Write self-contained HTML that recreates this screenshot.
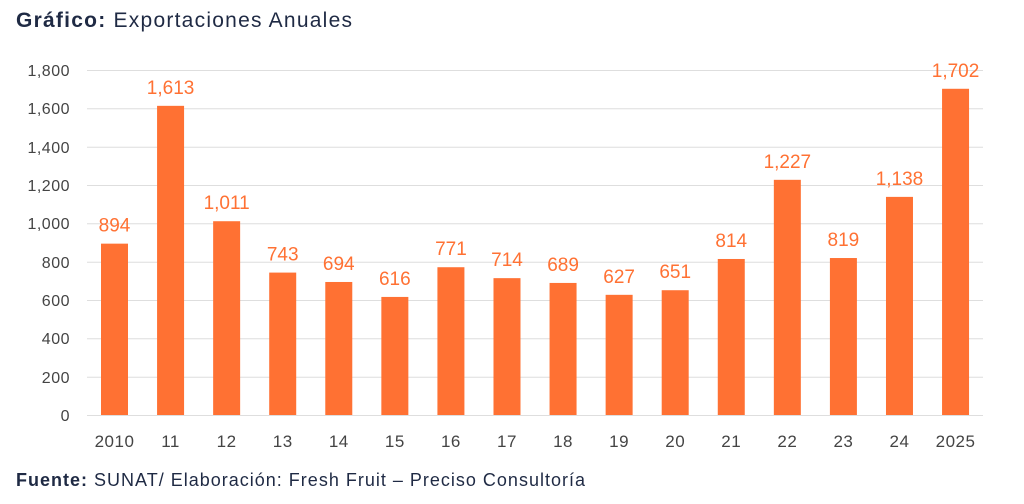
<!DOCTYPE html><html><head><meta charset="utf-8"><style>body{margin:0;background:#fff}svg{display:block}text{font-family:"Liberation Sans",sans-serif}</style></head><body>
<svg width="1024" height="504" xmlns="http://www.w3.org/2000/svg">
<text x="16" y="27" font-size="21" fill="#1f2a44" textLength="336" lengthAdjust="spacing"><tspan font-weight="bold">Gráfico:</tspan> Exportaciones Anuales</text>
<g stroke="#dedede" stroke-width="1">
<line x1="87" x2="983" y1="70.5" y2="70.5"/><line x1="87" x2="983" y1="108.8" y2="108.8"/><line x1="87" x2="983" y1="147.2" y2="147.2"/><line x1="87" x2="983" y1="185.5" y2="185.5"/><line x1="87" x2="983" y1="223.8" y2="223.8"/><line x1="87" x2="983" y1="262.2" y2="262.2"/><line x1="87" x2="983" y1="300.5" y2="300.5"/><line x1="87" x2="983" y1="338.8" y2="338.8"/><line x1="87" x2="983" y1="377.2" y2="377.2"/><line x1="87" x2="983" y1="415.5" y2="415.5"/>
</g>
<g font-size="16" fill="#444" text-anchor="end" letter-spacing="0.5">
<text x="70" y="76">1,800</text><text x="70" y="114">1,600</text><text x="70" y="153">1,400</text><text x="70" y="191">1,200</text><text x="70" y="229">1,000</text><text x="70" y="268">800</text><text x="70" y="306">600</text><text x="70" y="344">400</text><text x="70" y="383">200</text><text x="70" y="421">0</text>
</g>
<g id="bars" fill="#ff7133"></g>
<g id="vals" font-size="19" fill="#ff7133" text-anchor="middle"></g>
<g id="cats" font-size="17" fill="#444" text-anchor="middle" letter-spacing="0.5"></g>
<text x="16" y="486" font-size="18" fill="#1f2a44" textLength="569" lengthAdjust="spacing"><tspan font-weight="bold">Fuente:</tspan> SUNAT/ Elaboración: Fresh Fruit – Preciso Consultoría</text>
<script>
var v=[894,1613,1011,743,694,616,771,714,689,627,651,814,1227,819,1138,1702],c=["2010","11","12","13","14","15","16","17","18","19","20","21","22","23","24","2025"];
var b=document.getElementById('bars'),t=document.getElementById('vals'),k=document.getElementById('cats'),ns="http://www.w3.org/2000/svg";
v.forEach(function(d,i){var cx=114.5+i*56.07,y=415-d*345/1800;
var r=document.createElementNS(ns,'rect');r.setAttribute('x',cx-13.5);r.setAttribute('y',y);r.setAttribute('width',27);r.setAttribute('height',415-y);b.appendChild(r);
var s=document.createElementNS(ns,'text');s.setAttribute('x',cx);s.setAttribute('y',y-12);s.textContent=d.toLocaleString('en-US');t.appendChild(s);
var q=document.createElementNS(ns,'text');q.setAttribute('x',cx);q.setAttribute('y',447);q.textContent=c[i];k.appendChild(q);});
</script>
</svg></body></html>
